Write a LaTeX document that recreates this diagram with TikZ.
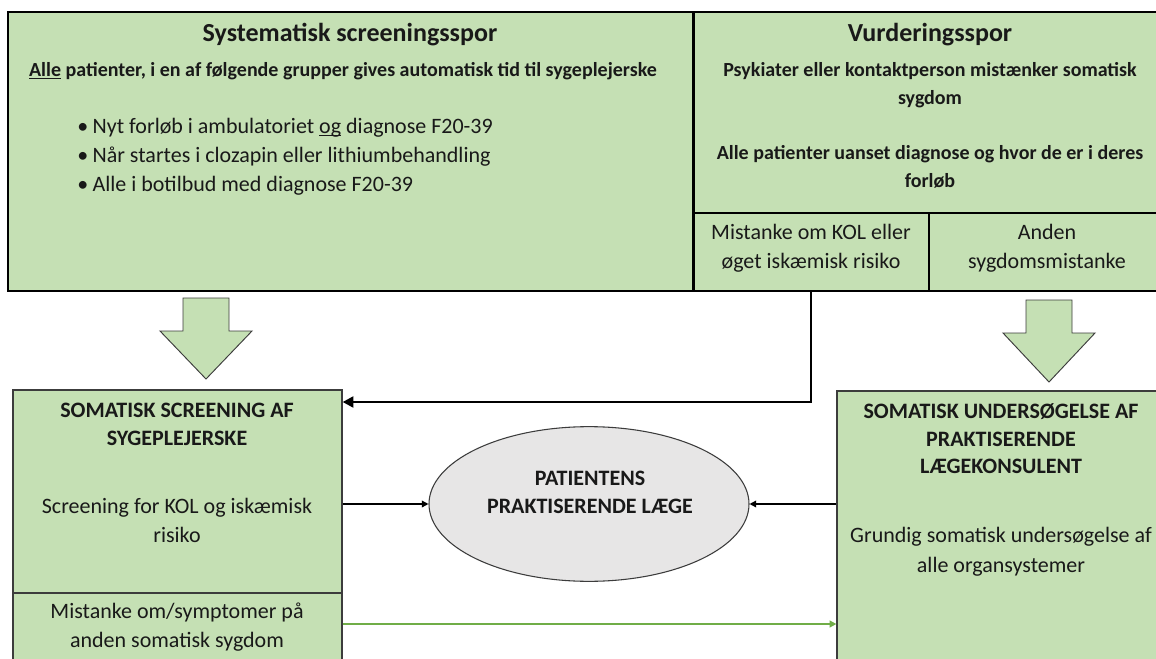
\documentclass[tikz,border=0pt]{standalone}
\usepackage{fontspec}
\setmainfont{Carlito}
\usetikzlibrary{arrows.meta,shapes.geometric,fit}
\definecolor{boxgreen}{RGB}{197,224,180}
\definecolor{ellgray}{RGB}{231,230,230}
\definecolor{linegreen}{RGB}{112,173,71}
\definecolor{edgegray}{RGB}{60,60,60}
\newcommand{\bigbul}{\makebox[11.5pt][l]{\textbullet}}
\begin{document}
\begin{tikzpicture}[x=0.75pt,y=-0.75pt,
  panel/.style={draw=black, line width=1.1pt, fill=boxgreen, inner sep=0pt},
  lowbox/.style={draw=edgegray, line width=0.9pt, fill=boxgreen, inner sep=0pt},
  blockarrow/.style={draw=edgegray, line width=0.7pt, fill=boxgreen, line join=miter},
  txt/.style={align=center, inner sep=0pt, text=black!90},
  titlefont/.style={font=\fontsize{19.5}{23}\selectfont\bfseries},
  subfont/.style={font=\fontsize{15}{20.5}\selectfont\bfseries},
  bodyfont/.style={font=\fontsize{16.5}{21.75}\selectfont},
  headfont/.style={font=\fontsize{16.5}{21}\selectfont\bfseries},
  arr/.style={draw=black, line width=1.1pt, -{Triangle[length=5pt,width=5pt]}},
  thickarr/.style={draw=black, line width=2.2pt, -{Triangle[length=8pt,width=8pt]}},
  greenarr/.style={draw=linegreen, line width=1.6pt, -{Triangle[length=5pt,width=5pt]}}]
\useasboundingbox (0,0) rectangle (1156,659);
\clip (0,0) rectangle (1156,659);
\fill[white] (0,0) rectangle (1156,659);

% top panels
\node[panel, fit={(8,12)(693,291)}] (scr) {};
\node[panel, fit={(693,12)(1172,213)}] (vur) {};
\node[panel, fit={(693,213)(929,291)}] (kol) {};
\node[panel, fit={(929,213)(1172,291)}] (anden) {};
\draw[black, line width=1.6pt] (scr.north east) -- (scr.south east);

% block arrows
\path[blockarrow] (183,298) -- (229,298) -- (229,331) -- (252,331) -- (206,379) -- (160,331) -- (183,331) -- cycle;
\path[blockarrow] (1026,300) -- (1072,300) -- (1072,333) -- (1095,333) -- (1049,382) -- (1003,333) -- (1026,333) -- cycle;

% lower boxes
\node[lowbox, fit={(13,390)(342,593)}] (nurse) {};
\node[lowbox, fit={(13,593)(342,690)}] (other) {};
\node[lowbox, fit={(837,391)(1172,690)}] (gp) {};
\node[ellipse, draw=edgegray, line width=0.8pt, fill=ellgray, minimum width=240pt, minimum height=116pt, inner sep=0pt] (pat) at (589,504) {};

% texts top left
\node[txt, titlefont] (t1) at (350,35) {Systematisk screeningsspor};
\node[txt, subfont] (t2) at (343,71) {\underline{Alle} patienter, i en af følgende grupper gives automatisk tid til sygeplejerske};
\node[txt, bodyfont, align=left, anchor=west, font=\fontsize{16.5}{21.75}\selectfont] (t3) at (77,157)
  {\bigbul Nyt forløb i ambulatoriet \underline{\smash{og}} diagnose F20-39\\
   \bigbul Når startes i clozapin eller lithiumbehandling\\
   \bigbul Alle i botilbud med diagnose F20-39};

% texts top right
\node[txt, titlefont] (t4) at (930,35) {Vurderingsspor};
\node[txt, subfont] (t5) at (930,85) {Psykiater eller kontaktperson mistænker somatisk\\sygdom};
\node[txt, subfont] (t6) at (930,167) {Alle patienter uanset diagnose og hvor de er i deres\\forløb};
\node[txt, bodyfont] (t7) at (811,248) {Mistanke om KOL eller\\øget iskæmisk risiko};
\node[txt, bodyfont] (t8) at (1047,248) {Anden\\sygdomsmistanke};

% lower texts
\node[txt, headfont] (t9) at (177,424) {SOMATISK SCREENING AF\\SYGEPLEJERSKE};
\node[txt, bodyfont] (t10) at (177,520) {Screening for KOL og iskæmisk\\risiko};
\node[txt, bodyfont] (t11) at (177,627) {Mistanke om/symptomer på\\anden somatisk sygdom};
\node[txt, headfont] (t12) at (590,492) {PATIENTENS\\PRAKTISERENDE LÆGE};
\node[txt, headfont, font=\fontsize{16.5}{20.6}\selectfont\bfseries] (t13) at (1001,439) {SOMATISK UNDERSØGELSE AF\\PRAKTISERENDE\\LÆGEKONSULENT};
\node[txt, bodyfont, font=\fontsize{16.5}{22.5}\selectfont] (t14) at (1001,552) {Grundig somatisk undersøgelse af\\alle organsystemer};

% connectors
\coordinate (kolturn) at (811,402);
\coordinate (glevel) at (342,624);
\draw[thickarr] (kol.south) -- (kolturn) -- (kolturn -| nurse.east);
\draw[arr] (nurse.east |- pat.west) -- (pat.west);
\draw[arr] (gp.west |- pat.east) -- (pat.east);
\draw[greenarr] (other.east |- glevel) -- (gp.west |- glevel);
\end{tikzpicture}
\end{document}
